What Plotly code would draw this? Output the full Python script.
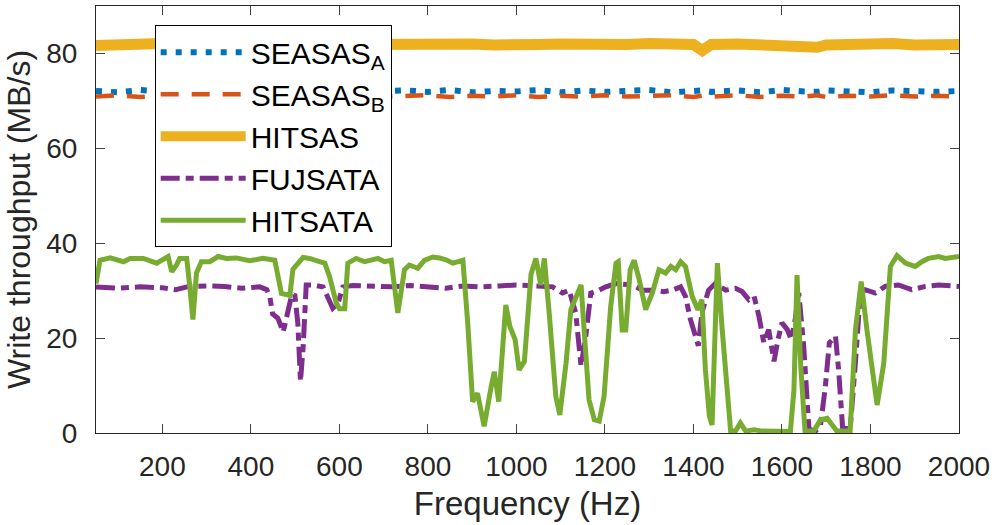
import plotly.graph_objects as go

# ---------------- data ----------------
freq_sas = [50, 100, 150, 200, 250, 300, 350, 400, 450, 500, 550, 600, 650, 700, 750,
            800, 850, 900, 950, 1000, 1050, 1100, 1150, 1200, 1250, 1300, 1350, 1400,
            1420, 1440, 1500, 1550, 1600, 1650, 1680, 1700, 1750, 1800, 1850, 1900, 1950, 2000]

seasas_a = [72.1, 71.8, 72.3, 71.9, 72.2, 71.7, 72.3, 72.0, 71.8, 72.2, 71.9, 72.3, 71.8, 72.1,
            72.2, 71.9, 72.3, 71.8, 72.1, 72.0, 72.3, 71.8, 72.2, 71.9, 72.1, 72.3, 71.8, 72.0,
            72.2, 71.9, 72.2, 71.8, 72.3, 72.0, 71.9, 72.2, 72.1, 71.8, 72.2, 72.0, 71.9, 72.1]

seasas_b = [70.9, 71.2, 70.8, 71.1, 70.9, 71.2, 70.8, 71.0, 71.2, 70.9, 71.1, 70.8, 71.2, 70.9,
            71.0, 71.2, 70.8, 71.1, 70.9, 71.2, 70.8, 71.1, 70.9, 71.2, 70.9, 71.0, 71.2, 70.8,
            71.1, 70.9, 71.2, 70.8, 71.1, 70.9, 71.2, 70.8, 71.1, 70.9, 71.2, 70.9, 71.1, 70.9]

hitsas = [81.7, 82.0, 81.8, 82.1, 81.9, 82.0, 81.8, 82.1, 81.9, 82.0, 81.7, 82.1, 81.9, 82.0,
          81.8, 82.1, 81.9, 82.0, 81.8, 82.1, 81.9, 82.0, 81.8, 82.0, 81.9, 82.1, 81.8, 81.9,
          80.6, 81.9, 82.0, 81.8, 82.1, 81.9, 81.3, 81.8, 82.0, 81.9, 82.1, 81.8, 82.0, 81.9]

freq_fuj = [50, 100, 150, 200, 230, 260, 300, 340, 380, 420, 436, 443, 449, 461, 473, 484,
            491, 499, 506, 512, 518, 525, 540, 563, 574, 585, 597, 608, 630, 680, 720, 760,
            800, 840, 880, 920, 960, 1000, 1040, 1082, 1104, 1119, 1134, 1146, 1157, 1168,
            1187, 1202, 1225, 1262, 1285, 1307, 1333, 1352, 1371, 1382, 1393, 1411, 1419,
            1434, 1449, 1473, 1495, 1510, 1525, 1537, 1548, 1559, 1570, 1582, 1591, 1600,
            1612, 1621, 1630, 1638, 1649, 1661, 1676, 1687, 1698, 1707, 1721, 1728, 1737,
            1754, 1766, 1777, 1788, 1811, 1833, 1863, 1893, 1924, 1954, 2000]
fujsata = [30.8, 30.5, 30.8, 30.6, 30.2, 30.9, 31.0, 30.9, 30.5, 30.8, 30.2, 28.6, 25.1, 24.2,
           21.3, 26.0, 28.6, 29.3, 23.2, 10.9, 18.0, 31.2, 31.2, 30.8, 28.8, 26.3, 27.4, 30.8,
           31.1, 31.0, 30.8, 31.1, 30.7, 30.5, 31.0, 30.8, 31.0, 31.2, 31.0, 30.8, 29.5, 30.1,
           25.3, 14.1, 20.6, 29.5, 30.1, 30.8, 31.5, 31.2, 30.1, 30.1, 29.8, 30.1, 30.8, 28.8,
           24.0, 18.4, 25.3, 30.1, 31.5, 30.1, 30.5, 29.8, 28.1, 28.8, 24.6, 19.0, 21.8, 15.1,
           19.7, 23.2, 21.8, 19.7, 24.0, 29.5, 18.4, 0.8, 0.4, 1.5, 9.8, 19.0, 20.4, 13.3, 1.1,
           0.8, 14.9, 29.5, 30.2, 29.5, 30.9, 31.2, 30.2, 30.9, 31.2, 30.9]

freq_hit = [50, 59, 82, 112, 127, 157, 187, 213, 221, 232, 239, 255, 262, 269, 277, 288, 307,
            326, 345, 367, 397, 427, 454, 469, 488, 495, 518, 533, 555, 567, 578, 593, 600,
            612, 619, 638, 657, 672, 687, 702, 717, 732, 747, 758, 777, 792, 811, 826, 841,
            856, 879, 890, 901, 912, 927, 943, 950, 960, 976, 985, 997, 1006, 1018, 1033,
            1044, 1055, 1063, 1074, 1089, 1098, 1112, 1123, 1146, 1153, 1164, 1176, 1187,
            1198, 1213, 1225, 1230, 1239, 1247, 1257, 1266, 1277, 1292, 1307, 1322, 1337,
            1349, 1360, 1371, 1382, 1397, 1410, 1419, 1427, 1436, 1442, 1454, 1465, 1473,
            1484, 1495, 1506, 1518, 1537, 1555, 1593, 1619, 1627, 1634, 1642, 1652, 1672,
            1687, 1702, 1713, 1724, 1754, 1759, 1766, 1779, 1792, 1815, 1830, 1845, 1860,
            1879, 1901, 1916, 1931, 1954, 1969, 2000]
hitsata = [31.5, 36.4, 36.9, 36.1, 36.8, 36.8, 35.8, 37.2, 34.0, 35.4, 36.8, 36.8, 30.8, 23.9,
           33.7, 36.1, 36.1, 37.2, 36.8, 36.9, 36.3, 36.8, 36.4, 29.4, 29.0, 34.5, 37.0, 36.8,
           36.1, 35.8, 32.9, 27.4, 26.2, 26.2, 35.8, 36.8, 36.1, 36.4, 36.8, 36.1, 36.4, 25.3,
           34.4, 35.4, 34.7, 36.4, 37.1, 36.9, 36.5, 35.8, 36.4, 23.1, 6.6, 8.4, 1.4, 9.8, 12.9,
           6.6, 27.0, 22.5, 19.7, 13.3, 15.1, 33.5, 36.8, 31.2, 36.8, 25.3, 7.7, 3.8, 14.7, 26.0,
           31.2, 21.7, 7.0, 2.8, 2.5, 7.7, 26.7, 35.8, 36.1, 21.7, 21.7, 34.4, 36.4, 32.5, 26.0,
           29.5, 34.4, 33.7, 35.1, 34.4, 36.1, 35.1, 28.8, 26.0, 28.1, 13.3, 3.5, 1.7, 35.8,
           21.7, 11.2, 0.4, 0.4, 2.1, 0.4, 0.7, 0.4, 0.3, 0.3, 9.0, 33.3, 14.7, 0.4, 0.4, 2.8,
           3.1, 1.7, 0.4, 0.4, 11.2, 21.7, 31.9, 21.7, 5.9, 14.7, 35.1, 37.4, 35.8, 35.1, 36.1,
           36.8, 37.2, 36.8, 37.2]

x_ticks = [200, 400, 600, 800, 1000, 1200, 1400, 1600, 1800, 2000]
y_ticks = [0, 20, 40, 60, 80]

# ---------------- figure ----------------
BLUE, ORANGE, YELLOW, PURPLE, GREEN = "#0072BD", "#D95319", "#EDB120", "#7E2F8E", "#77AC30"
AX = "#262626"

fig = go.Figure()
fig.add_trace(go.Scatter(x=freq_sas, y=seasas_a, mode="lines", name="SEASAS<sub>A</sub>",
                         line=dict(color=BLUE, width=6, dash="6px,9px")))
fig.add_trace(go.Scatter(x=freq_sas, y=seasas_b, mode="lines", name="SEASAS<sub>B</sub>",
                         line=dict(color=ORANGE, width=4.5, dash="18px,13px")))
fig.add_trace(go.Scatter(x=freq_sas, y=hitsas, mode="lines", name="HITSAS",
                         line=dict(color=YELLOW, width=11)))
fig.add_trace(go.Scatter(x=freq_fuj, y=fujsata, mode="lines", name="FUJSATA",
                         line=dict(color=PURPLE, width=5, dash="19px,6px,8px,6px")))
fig.add_trace(go.Scatter(x=freq_hit, y=hitsata, mode="lines", name="HITSATA",
                         line=dict(color=GREEN, width=5)))

fig.update_layout(
    width=995, height=525,
    margin=dict(l=96, r=34, t=5, b=92),
    paper_bgcolor="white", plot_bgcolor="white",
    font=dict(family="Liberation Sans, Arial, sans-serif", color=AX),
    showlegend=True,
    legend=dict(x=0.068, y=0.955, xanchor="left", yanchor="top",
                bgcolor="white", bordercolor="black", borderwidth=1,
                font=dict(size=30, color="black"), itemwidth=85,
                tracegroupgap=0),
)
fig.update_xaxes(range=[50, 2000], tickvals=x_ticks, ticks="inside", ticklen=9,
                 showline=True, linecolor=AX, linewidth=1, mirror="ticks",
                 showgrid=False, zeroline=False, tickfont=dict(size=28, color=AX),
                 ticklabelstandoff=8,
                 title=dict(text="Frequency (Hz)", font=dict(size=33, color=AX), standoff=11))
fig.update_yaxes(range=[0, 90], tickvals=y_ticks, ticks="inside", ticklen=9,
                 showline=True, linecolor=AX, linewidth=1, mirror="ticks",
                 showgrid=False, zeroline=False, tickfont=dict(size=28, color=AX),
                 ticklabelstandoff=12,
                 title=dict(text="Write throughput (MB/s)", font=dict(size=32, color=AX), standoff=6))

fig.write_html("out.html", config={"displayModeBar": False},
               post_script="document.body.style.margin='0px';")
